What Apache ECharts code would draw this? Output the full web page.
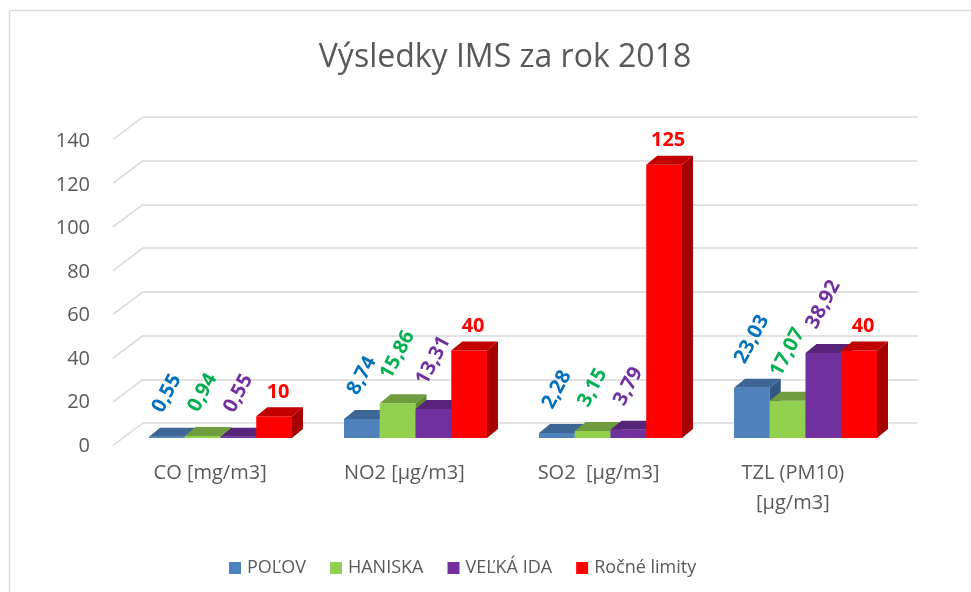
<!DOCTYPE html>
<html><head><meta charset="utf-8">
<script src="https://cdn.jsdelivr.net/npm/echarts@6/dist/echarts.min.js"></script>
<style>html,body{margin:0;padding:0;background:#fff}#c{width:971px;height:592px}</style>
</head><body><div id="c"></div>
<script>
const categories = ['CO [mg/m3]', 'NO2 [µg/m3]', 'SO2  [µg/m3]', 'TZL (PM10)\n[µg/m3]'];
const seriesNames = ['POĽOV', 'HANISKA', 'VEĽKÁ IDA', 'Ročné limity'];
const polov = [0.55, 8.74, 2.28, 23.03];
const haniska = [0.94, 15.86, 3.15, 17.07];
const velkaIda = [0.55, 13.31, 3.79, 38.92];
const limity = [10, 40, 125, 40];
const yTicks = [0, 20, 40, 60, 80, 100, 120, 140];

const FONT = '"Open Sans", "Noto Sans", sans-serif';
const frontColors = ['#4f81bd', '#92d050', '#7030a0', '#ff0000'];
const topColors = ['#3d6696', '#6f9c3c', '#562478', '#c20000'];
const sideColors = ['#335784', '#5e8a30', '#481e66', '#a60000'];
const labelColors = ['#0070c0', '#00b050', '#7030a0', '#ff0000'];
const allData = [polov, haniska, velkaIda, limity];

const DX = 11, DY = 9;
const measureCtx = document.createElement('canvas').getContext('2d');
function fmt(v){ return String(v).replace('.', ','); }

function barRender(s){
  return function(params, api){
    const cat = api.value(0), val = api.value(1);
    const p = api.coord([cat, val]);
    const p0 = api.coord([cat, 0]);
    const band = api.size([1, 0])[0];
    const w = band * 0.1833;
    const x0 = p[0] + (s - 2) * w;
    const yt = p[1], yb = p0[1];
    const children = [
      {type:'rect', shape:{x:x0, y:yt, width:w, height:Math.max(yb-yt,0.5)}, style:{fill:frontColors[s]}},
      {type:'polygon', shape:{points:[[x0,yt],[x0+DX,yt-DY],[x0+w+DX,yt-DY],[x0+w,yt]]}, style:{fill:topColors[s]}},
      {type:'polygon', shape:{points:[[x0+w,yt],[x0+w+DX,yt-DY],[x0+w+DX,yb-DY],[x0+w,yb]]}, style:{fill:sideColors[s]}}
    ];
    const txt = fmt(val);
    const cx = x0 + w/2;
    if (s < 3) {
      measureCtx.font = 'bold 20px ' + FONT;
      const W = measureCtx.measureText(txt).width;
      const H = 20;
      const a = 62 * Math.PI / 180;
      const bbH = W * Math.sin(a) + H * Math.cos(a);
      children.push({type:'text', x:cx, y:yt - 21 - bbH/2, rotation:a, z2:10,
        style:{text:txt, fill:labelColors[s], font:'bold 20px ' + FONT, textAlign:'center', textVerticalAlign:'middle'}});
    } else {
      children.push({type:'text', x:cx + 4, y:yt - 24, z2:10,
        style:{text:txt, fill:labelColors[s], font:'bold 20px ' + FONT, textAlign:'center', textVerticalAlign:'middle'}});
    }
    return {type:'group', children};
  };
}

const series = [];
// diagonal floor/wall lines
series.push({
  type:'custom', xAxisIndex:0, yAxisIndex:0, silent:true, legendHoverLink:false,
  data: yTicks.map(v => [0, v]),
  renderItem: function(params, api){
    const p = api.coord([0, api.value(1)]);
    const x = params.coordSys.x;
    return {type:'line', shape:{x1:x-30, y1:p[1]+22.5, x2:x, y2:p[1]}, style:{stroke:'#d9d9d9', lineWidth:1.5}};
  }
});
for (let s = 0; s < 4; s++) {
  series.push({
    type:'custom', name:seriesNames[s], xAxisIndex:2, yAxisIndex:2,
    itemStyle:{color:frontColors[s]},
    data: allData[s].map((v,i)=>[i, v]),
    renderItem: barRender(s)
  });
}

const chart = echarts.init(document.getElementById('c'), null, {renderer:'canvas'});
chart.setOption({
  animation:false,
  backgroundColor:'#fff',
  title:{text:'Výsledky IMS za rok 2018', left:500, top:37, textAlign:'center',
    textStyle:{fontFamily:FONT, fontSize:32, fontWeight:'normal', color:'#595959'}},
  graphic:[{type:'rect', shape:{x:9.5, y:10.5, width:1200, height:900}, style:{fill:null, stroke:'#d9d9d9', lineWidth:1.5}, silent:true}],
  legend:{data:seriesNames, left:224, top:554, icon:'rect', itemWidth:12, itemHeight:12, itemGap:24,
    textStyle:{fontFamily:FONT, fontSize:18, color:'#595959', padding:[0,0,0,1]}},
  grid:[
    {left:143, right:53, top:117, bottom:169},
    {left:113, right:81, top:141.5, bottom:146},
    {left:123, right:68, top:132, bottom:154}
  ],
  xAxis:[
    {type:'category', gridIndex:0, data:categories, show:false},
    {type:'category', gridIndex:1, data:categories, axisLine:{show:false}, axisTick:{show:false},
      axisLabel:{fontFamily:FONT, fontSize:20, color:'#595959', margin:12, lineHeight:30, interval:0}},
    {type:'category', gridIndex:2, data:categories, show:false}
  ],
  yAxis:[
    {type:'value', gridIndex:0, min:0, max:140, interval:20, axisLabel:{show:false}, axisLine:{show:false}, axisTick:{show:false},
      splitLine:{lineStyle:{color:'#d9d9d9', width:1.5}}},
    {type:'value', gridIndex:1, min:0, max:140, interval:20, axisLine:{show:false}, axisTick:{show:false}, splitLine:{show:false},
      axisLabel:{fontFamily:FONT, fontSize:20, color:'#595959', margin:23}},
    {type:'value', gridIndex:2, min:0, max:140, interval:20, show:false, splitLine:{show:false}}
  ],
  series
});
</script></body></html>
